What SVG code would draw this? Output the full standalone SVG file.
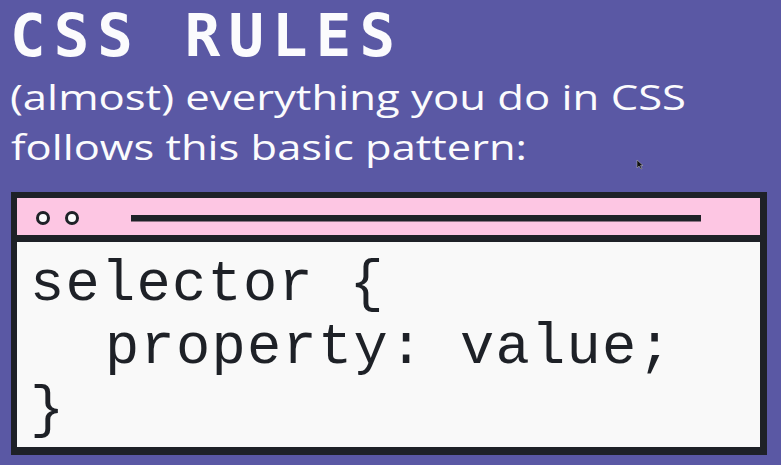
<svg xmlns="http://www.w3.org/2000/svg" width="781" height="465" viewBox="0 0 781 465">
<style>
.title{font-family:"DejaVu Sans Mono","Liberation Mono",monospace;font-weight:bold;font-size:59px;fill:#fbfbfd}
.sub{font-family:"Open Sans","Noto Sans",sans-serif;font-size:35px;fill:#fbfbfd}
.code{font-family:"Liberation Mono","DejaVu Sans Mono",monospace;font-size:57px;fill:#1e2127;letter-spacing:1.3px}
.dark{fill:#1e2127}
</style>
<rect width="781" height="465" fill="#5a58a4"/>
<g id="title">
<text class="title" x="10" y="56" textLength="385" lengthAdjust="spacing">CSS RULES</text>
</g>
<g id="subtitle">
<text class="sub" x="10" y="110" textLength="676" lengthAdjust="spacingAndGlyphs">(almost) everything you do in CSS</text>
<text class="sub" x="11" y="160" textLength="516" lengthAdjust="spacingAndGlyphs">follows this basic pattern:</text>
</g>
<g id="window">
<rect class="dark" x="11" y="192" width="756" height="263"/>
<rect x="17" y="198" width="743" height="37" fill="#fdc6e3"/>
<rect x="17" y="242" width="743" height="205" fill="#f9f9f9"/>
<circle cx="43" cy="218" r="5.5" fill="#fbfbfb" stroke="#1e2127" stroke-width="3"/>
<circle cx="72" cy="218" r="5.5" fill="#fbfbfb" stroke="#1e2127" stroke-width="3"/>
<rect class="dark" x="131" y="215" width="570" height="6.5"/>
</g>
<g id="code">
<text class="code" x="30" y="300">selector {</text>
<text class="code" x="105" y="363">property: value;</text>
<text class="code" x="30" y="426">}</text>
</g>
<g id="cursor">
<path d="M637 160 L637 168 L639 166 L641 169 L642 168.5 L640.5 165.5 L643 165.5 Z" fill="#111" stroke="#bbb" stroke-width="0.5"/>
</g>
</svg>
